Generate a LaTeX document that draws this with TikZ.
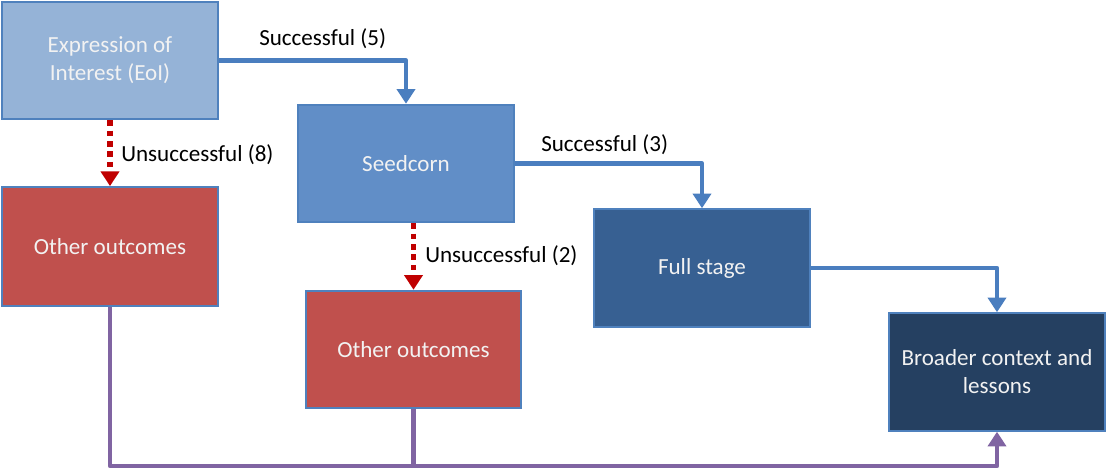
\documentclass[tikz,border=0pt]{standalone}
\usepackage{fontspec}
\setmainfont{Carlito}
\usetikzlibrary{arrows.meta}
\definecolor{eoiC}{HTML}{95B3D7}
\definecolor{seedC}{HTML}{618EC7}
\definecolor{fullC}{HTML}{376092}
\definecolor{broadC}{HTML}{254061}
\definecolor{redC}{HTML}{C0504D}
\definecolor{edgeC}{HTML}{4F81BD}
\definecolor{arrC}{HTML}{4A7EBF}
\definecolor{dashC}{HTML}{C00000}
\definecolor{purC}{HTML}{8064A2}
\tikzset{
  box/.style={draw=edgeC, line width=1.6pt, text=white!95!black, align=center,
    minimum width=162pt, minimum height=88pt, inner sep=2pt,
    font=\fontsize{17.3}{21}\selectfont},
  tip/.style={-{Triangle[width=13.5pt,length=11pt]}},
  good/.style={draw=arrC, line width=3.6pt, tip},
  bad/.style={draw=dashC, line width=4pt, dash pattern=on 4.2pt off 3.6pt, tip},
  bus/.style={draw=purC, line width=3.4pt},
  lbl/.style={anchor=west, inner sep=0pt, font=\fontsize{17.3}{21}\selectfont}
}
\begin{document}
\begin{tikzpicture}[x=0.75pt,y=-0.75pt]
\useasboundingbox (0,0) rectangle (1106,473);
\node[box, fill=eoiC] (eoi) at (110,60.5) {Expression of\\Interest (EoI)};
\node[box, fill=seedC] (seed) at (406,163.5) {Seedcorn};
\node[box, fill=redC, minimum height=89pt] (oth1) at (110,246.5) {Other outcomes};
\node[box, fill=redC, minimum width=161pt] (oth2) at (413.5,349.5) {Other outcomes};
\node[box, fill=fullC] (full) at (702,268) {Full stage};
\node[box, fill=broadC] (broad) at (997,372) {Broader context and\\lessons};
\coordinate (busy) at (0,466);
% bus lines
\draw[bus, line join=round, tip] (oth1.south) -- (oth1.south |- busy) -| (broad.south);
\draw[bus] (oth2.south) -- (oth2.south |- busy);
% successful
\draw[good, line join=round] (eoi.east) -| (seed.north);
\draw[good, line join=round] (seed.east) -| (full.north);
\draw[good, line join=round] (full.east) -| (broad.north);
% unsuccessful
\draw[bad] (eoi.south) -- (oth1.north);
\draw[bad] (oth2.north |- seed.south) -- (oth2.north);
% labels
\node[lbl] (l1) at (259,39) {Successful (5)};
\node[lbl] (l2) at (121,155) {Unsuccessful (8)};
\node[lbl] (l3) at (541,145) {Successful (3)};
\node[lbl] (l4) at (425,256) {Unsuccessful (2)};
\end{tikzpicture}
\end{document}
